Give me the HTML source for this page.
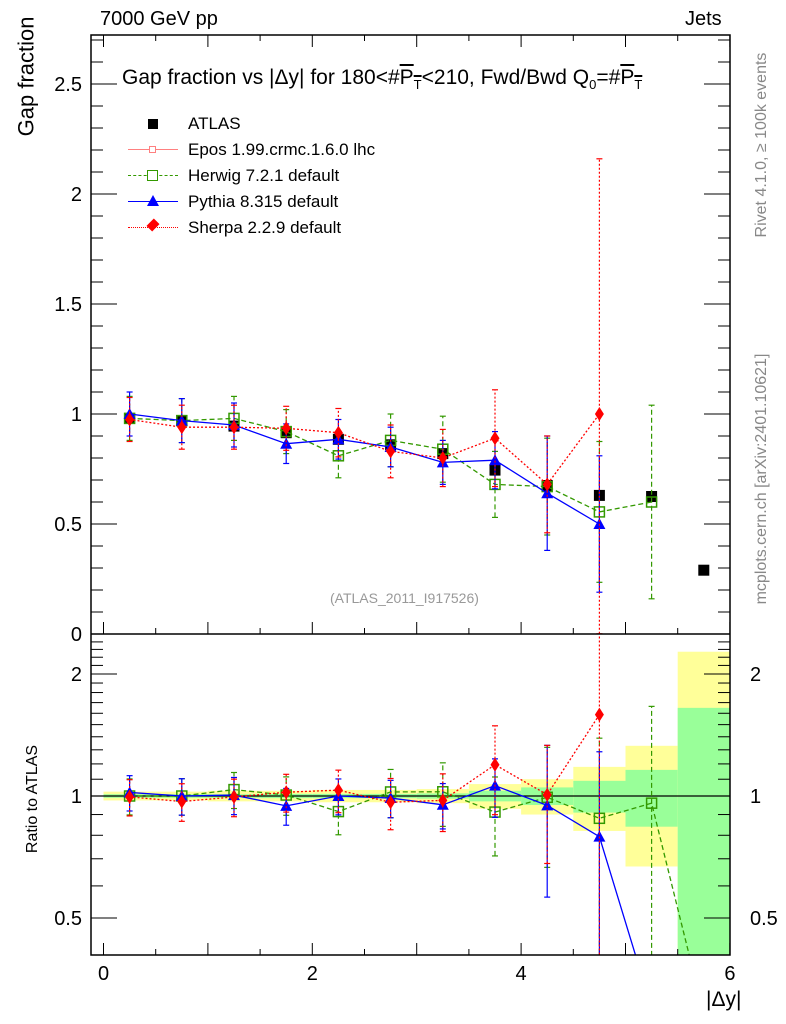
<!DOCTYPE html>
<html><head><meta charset="utf-8"><style>
html,body{margin:0;background:#fff;width:786px;height:1024px;overflow:hidden;position:relative;}
svg{display:block;font-family:"Liberation Sans",sans-serif;}
</style></head><body>
<svg id="c" width="786" height="1024" xmlns="http://www.w3.org/2000/svg"></svg>
<script>
const bins=[0.25,0.75,1.25,1.75,2.25,2.75,3.25,3.75,4.25,4.75,5.25,5.75];
const atlasVals=[0.98,0.97,0.945,0.915,0.885,0.86,0.82,0.745,0.675,0.63,0.625,0.29];
const bandStat=[0.01,0.01,0.01,0.012,0.012,0.012,0.015,0.03,0.05,0.09,0.16,0.65];
const bandTot=[0.025,0.025,0.03,0.03,0.035,0.035,0.04,0.07,0.10,0.18,0.33,1.27];
const herwigVals=[0.98,0.97,0.98,0.92,0.81,0.88,0.84,0.68,0.67,0.555,0.60];
const herwigErr=[0.1,0.1,0.1,0.1,0.1,0.12,0.15,0.15,0.22,0.32,0.44];
const herwigRatioTail=[0.29];
const pythiaVals=[1.0,0.97,0.95,0.865,0.885,0.85,0.78,0.79,0.64,0.50];
const pythiaErr=[0.1,0.1,0.1,0.09,0.09,0.09,0.1,0.13,0.26,0.31];
const pythiaRatioTail=[0.3,0.276];
const sherpaVals=[0.975,0.94,0.94,0.935,0.915,0.83,0.80,0.89,0.68,1.0];
const sherpaErr=[0.1,0.1,0.1,0.1,0.11,0.12,0.13,0.22,0.22,1.16];
const xTicks=[0,2,4,6];
const yTicks=[0,0.5,1,1.5,2,2.5];
const rTicks=[0.5,1,2];

const S=document.getElementById('c');const NS='http://www.w3.org/2000/svg';
function el(t,a,p){const e=document.createElementNS(NS,t);for(const k in a)e.setAttribute(k,a[k]);(p||S).appendChild(e);return e;}
const L=91,R=730,T=35,M=634,B=955;
const X=v=>103.5+v*104.4;
const Y=v=>634-220*v;
const RY=r=>r<=0?2000:796-122*Math.log2(r);
const defs=el('defs',{});
const c1=el('clipPath',{id:'cm'},defs);el('rect',{x:L,y:T,width:R-L,height:M-T},c1);
const c2=el('clipPath',{id:'cr'},defs);el('rect',{x:L,y:M,width:R-L,height:B-M},c2);
const gm=el('g',{'clip-path':'url(#cm)'});
const gr=el('g',{'clip-path':'url(#cr)'});
bins.forEach((b,i)=>{
 const y1=el('rect',{x:X(b-0.25),width:X(b+0.25)-X(b-0.25),y:RY(1+bandTot[i]),height:RY(Math.max(0.01,1-bandTot[i]))-RY(1+bandTot[i]),fill:'#ffff99'},gr);
 
 const g1=el('rect',{x:X(b-0.25),width:X(b+0.25)-X(b-0.25),y:RY(1+bandStat[i]),height:RY(Math.max(0.01,1-bandStat[i]))-RY(1+bandStat[i]),fill:'#99ff99'},gr);
 
});
el('line',{x1:L,x2:R,y1:RY(1),y2:RY(1),stroke:'#000','stroke-width':1.3},gr);
function series(vals,errs,tail,col,dash,marker,name){
 const pts=vals.map((v,i)=>X(bins[i])+','+Y(v)).join(' ');
 const pl=el('polyline',{points:pts,fill:'none',stroke:col,'stroke-width':1.3,'stroke-dasharray':dash},gm);
 
 const ratios=vals.map((v,i)=>v/atlasVals[i]).concat(tail);
 const rp=ratios.map((r,i)=>X(bins[i])+','+RY(r)).join(' ');
 const rl=el('polyline',{points:rp,fill:'none',stroke:col,'stroke-width':1.3,'stroke-dasharray':dash},gr);
 
 vals.forEach((v,i)=>{
  const x=X(bins[i]);
  [[gm,Y,1],[gr,RY,atlasVals[i]]].forEach(([g,f,d])=>{
   const lo=f(Math.max(0.001,(v-errs[i]))/d),hi=f((v+errs[i])/d);
   const e=el('line',{x1:x,x2:x,y1:lo,y2:hi,stroke:col,'stroke-width':1.2,'stroke-dasharray':dash},g);
   
   el('line',{x1:x-3,x2:x+3,y1:hi,y2:hi,stroke:col,'stroke-width':1.2},g);
   if(lo<1000)el('line',{x1:x-3,x2:x+3,y1:lo,y2:lo,stroke:col,'stroke-width':1.2},g);
   marker(g,x,f(v/d));
  });
 });
}
const sq=(g,x,y)=>{const m=el('rect',{x:x-5,y:y-5,width:10,height:10,fill:'none',stroke:'#339900','stroke-width':1.5},g);};
const tri=(g,x,y)=>{const m=el('polygon',{points:`${x-6},${y+5} ${x+6},${y+5} ${x},${y-6}`,fill:'#0000ff'},g);};
const dia=(g,x,y)=>{const m=el('polygon',{points:`${x},${y-7} ${x+4.5},${y} ${x},${y+7} ${x-4.5},${y}`,fill:'#ff0000'},g);};
atlasVals.forEach((v,i)=>{const m=el('rect',{x:X(bins[i])-5.5,y:Y(v)-5.5,width:11,height:11,fill:'#000'},gm);});
series(herwigVals,herwigErr,herwigRatioTail,'#339900','5,3',sq,'herwig');
series(pythiaVals,pythiaErr,pythiaRatioTail,'#0000ff','',tri,'pythia');
series(sherpaVals,sherpaErr,[],'#ff0000','2,2',dia,'sherpa');
el('rect',{x:L,y:T,width:R-L,height:B-T,fill:'none',stroke:'#000','stroke-width':1.5});
el('line',{x1:L,x2:R,y1:M,y2:M,stroke:'#000','stroke-width':1.5});
for(let v=0;v<=6.01;v+=0.5){const big=Math.abs(v%1)<0.01;[M,B].forEach(yb=>{el('line',{x1:X(v),x2:X(v),y1:yb,y2:yb-(big?12:6),stroke:'#000'});});el('line',{x1:X(v),x2:X(v),y1:T,y2:T+(big?12:6),stroke:'#000'});}
xTicks.forEach(v=>{const t=el('text',{x:X(v),y:980,'font-size':20,'text-anchor':'middle'});t.textContent=v;});
for(let v=0;v<=2.71;v+=0.1){const big=Math.abs(v*2-Math.round(v*2))<0.01;[[L,1],[R,-1]].forEach(([x,s])=>el('line',{x1:x,x2:x+s*(big?26:12),y1:Y(v),y2:Y(v),stroke:'#000'}));}
yTicks.forEach(v=>{const t=el('text',{x:82,y:Y(v)+7,'font-size':20,'text-anchor':'end'});t.textContent=v;});
for(let v=0.4;v<=2.5;v+=0.1){const big=rTicks.some(r=>Math.abs(r-v)<0.01);const y=RY(v);if(y<M||y>B)continue;[[L,1],[R,-1]].forEach(([x,s])=>el('line',{x1:x,x2:x+s*(big?26:12),y1:y,y2:y,stroke:'#000'}));}
rTicks.forEach(v=>{[[82,'end'],[750,'start']].forEach(([x,a])=>{const t=el('text',{x:x,y:RY(v)+7,'font-size':20,'text-anchor':a});t.textContent=v;});});
</script>
<div style="position:absolute;left:0;top:0;width:786px;height:1024px;overflow:hidden;font-family:'Liberation Sans',sans-serif;pointer-events:none">
<div style="position:absolute;left:100px;top:8px;font-size:20px">7000 GeV pp</div>
<div style="position:absolute;left:685px;top:8px;font-size:20px">Jets</div>
<div style="position:absolute;left:122px;top:66px;font-size:21px;white-space:nowrap">Gap fraction vs |Δy| for 180&lt;#<span style="text-decoration:overline">P<sub style="font-size:13px">T</sub></span>&lt;210, Fwd/Bwd Q<sub style="font-size:13px">0</sub>=#<span style="text-decoration:overline">P<sub style="font-size:13px">T</sub></span></div>
<div style="position:absolute;left:-56px;top:86px;width:165px;font-size:22px;transform:rotate(-90deg);text-align:right;">Gap fraction</div>
<div style="position:absolute;left:-37px;top:790px;width:140px;font-size:16px;transform:rotate(-90deg);text-align:center">Ratio to ATLAS</div>
<div style="position:absolute;left:706px;top:988px;font-size:21px">|Δy|</div>
<div style="position:absolute;left:330px;top:590px;font-size:14px;color:#999">(ATLAS_2011_I917526)</div>
<div style="position:absolute;left:642px;top:136px;width:240px;font-size:16px;color:#888;transform:rotate(-90deg);white-space:nowrap;text-align:center">Rivet 4.1.0, ≥ 100k events</div>
<div style="position:absolute;left:602px;top:470px;width:320px;font-size:16px;color:#888;transform:rotate(-90deg);white-space:nowrap;text-align:center">mcplots.cern.ch [arXiv:2401.10621]</div>
<div style="position:absolute;left:128px;top:111px;font-size:17px;line-height:26px">
<div style="position:relative;padding-left:60px"><span style="position:absolute;left:20px;top:8px;width:10px;height:10px;background:#000"></span>ATLAS</div>
<div style="position:relative;padding-left:60px"><span style="position:absolute;left:0;top:12px;width:50px;border-top:1.3px solid #ff8080"></span><span style="position:absolute;left:21px;top:9px;width:5px;height:5px;border:1px solid #ff8080;background:#fff"></span>Epos 1.99.crmc.1.6.0 lhc</div>
<div style="position:relative;padding-left:60px"><span style="position:absolute;left:0;top:12px;width:50px;border-top:1.3px dashed #339900"></span><span style="position:absolute;left:19px;top:7px;width:9px;height:9px;border:1.5px solid #339900;background:#fff"></span>Herwig 7.2.1 default</div>
<div style="position:relative;padding-left:60px"><span style="position:absolute;left:0;top:12px;width:50px;border-top:1.3px solid #00f"></span><span style="position:absolute;left:19px;top:6px;width:0;height:0;border-left:6px solid transparent;border-right:6px solid transparent;border-bottom:11px solid #00f"></span>Pythia 8.315 default</div>
<div style="position:relative;padding-left:60px"><span style="position:absolute;left:0;top:12px;width:50px;border-top:1.3px dotted #f00"></span><span style="position:absolute;left:21px;top:6px;width:8px;height:8px;background:#f00;transform:rotate(45deg) scaleY(1.3)"></span>Sherpa 2.2.9 default</div>
</div>
</div>
</body></html>
